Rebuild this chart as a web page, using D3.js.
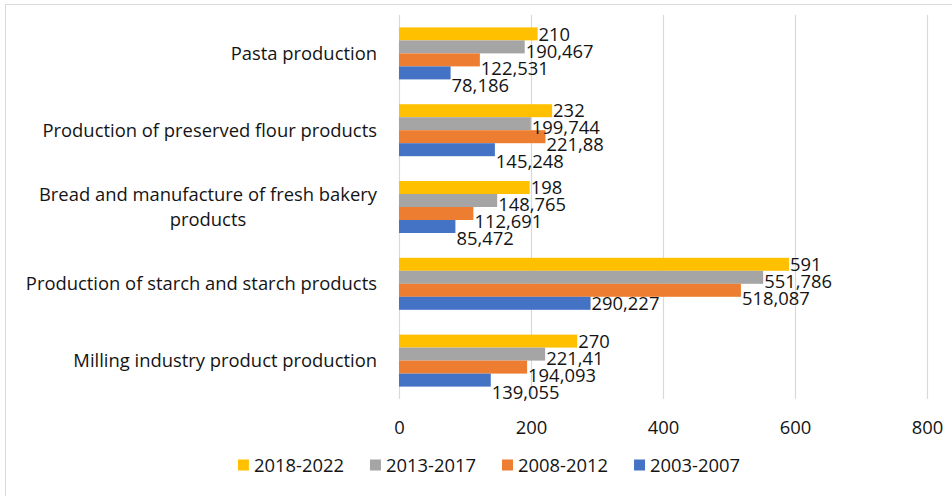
<!DOCTYPE html>
<html>
<head>
<meta charset="utf-8">
<script src="https://cdn.jsdelivr.net/npm/d3@7"></script>
<style>
  html, body { margin: 0; padding: 0; background: #fff; }
  svg { display: block; font-family: "Open Sans", sans-serif; }
</style>
</head>
<body>
<svg id="chart" width="952" height="496"></svg>
<script>
// Categories, top to bottom
const categories = [
  "Pasta production",
  "Production of preserved flour products",
  "Bread and manufacture of fresh bakery products",
  "Production of starch and starch products",
  "Milling industry product production"
];

// Periods, in the order the bars sit inside each group (top to bottom)
const periods = ["2018-2022", "2013-2017", "2008-2012", "2003-2007"];

// One array per period, aligned with categories
const values2018_2022 = [210, 232, 198, 591, 270];
const values2013_2017 = [190.467, 199.744, 148.765, 551.786, 221.41];
const values2008_2012 = [122.531, 221.88, 112.691, 518.087, 194.093];
const values2003_2007 = [78.186, 145.248, 85.472, 290.227, 139.055];

const xTicks = [0, 200, 400, 600, 800];
const periodColors = ["#FFC000", "#A5A5A5", "#ED7D31", "#4472C4"];

const seriesValues = [values2018_2022, values2013_2017, values2008_2012, values2003_2007];

const svg = d3.select("#chart");
const W = 952, H = 496;
const plot = { left: 399, right: 927, top: 15, bottom: 399 };
const FONT = 18.4;
const TEXT = "#141414";

// chart frame
svg.append("rect")
  .attr("x", 5.5).attr("y", 4.5)
  .attr("width", W + 10).attr("height", H + 10)
  .attr("fill", "#fff").attr("stroke", "#d9d9d9").attr("stroke-width", 1);

const x = d3.scaleLinear().domain([0, 800]).range([plot.left, plot.right]);
const y = d3.scaleBand().domain(categories).range([plot.top, plot.bottom])
  .paddingInner(0.323).paddingOuter(0.1615);
const ySub = d3.scaleBand().domain(periods).range([0, y.bandwidth()]);
const color = d3.scaleOrdinal().domain(periods).range(periodColors);

// vertical gridlines
svg.append("g").selectAll("line").data(xTicks).join("line")
  .attr("x1", d => Math.round(x(d)) + 0.5).attr("x2", d => Math.round(x(d)) + 0.5)
  .attr("y1", plot.top).attr("y2", plot.bottom)
  .attr("stroke", "#d9d9d9").attr("stroke-width", 1.2);

// x axis tick labels
const xAxis = d3.axisBottom(x).tickValues(xTicks).tickSize(0).tickPadding(0)
  .tickFormat(d3.format("d"));
const gx = svg.append("g").attr("transform", `translate(0,${plot.bottom + 28})`).call(xAxis);
gx.select(".domain").remove();
gx.selectAll("text").attr("font-size", FONT).attr("font-family", "Open Sans")
  .attr("fill", TEXT).attr("dy", "0.36em").attr("y", 0);

// category labels, wrapped when wider than the label column
const labelRight = 377;
const maxLabelWidth = 355;
const gCat = svg.append("g");
categories.forEach(cat => {
  const cy = y(cat) + y.bandwidth() / 2;
  const t = gCat.append("text").attr("font-size", FONT).attr("fill", TEXT);
  const words = cat.split(" ");
  const lines = [];
  let line = [];
  const probe = svg.append("text").attr("font-size", FONT);
  words.forEach(w => {
    const test = line.concat(w).join(" ");
    probe.text(test);
    if (probe.node().getComputedTextLength() > maxLabelWidth && line.length) {
      lines.push(line.join(" "));
      line = [w];
    } else line.push(w);
  });
  lines.push(line.join(" "));
  // widest line, to centre the wrapped block and right-align it
  const widths = lines.map(l => { probe.text(l); return probe.node().getComputedTextLength(); });
  probe.remove();
  const blockW = d3.max(widths);
  const lh = 25;
  const cx = labelRight - blockW / 2;
  lines.forEach((l, i) => {
    t.append("tspan")
      .attr("x", cx)
      .attr("y", cy + (i - (lines.length - 1) / 2) * lh)
      .attr("dy", "0.36em")
      .attr("text-anchor", "middle")
      .text(l);
  });
});

// bars
const rows = [];
categories.forEach((cat, ci) => {
  periods.forEach((p, si) => {
    rows.push({ cat, period: p, value: seriesValues[si][ci] });
  });
});

svg.append("g").selectAll("rect").data(rows).join("rect")
  .attr("x", x(0))
  .attr("y", d => y(d.cat) + ySub(d.period))
  .attr("width", d => x(d.value) - x(0))
  .attr("height", ySub.bandwidth())
  .attr("fill", d => color(d.period));

// value labels: placed at the bar end, pushed down past any bar or
// earlier label they would overlap
const fmt = v => String(v).replace(".", ",");
const gLab = svg.append("g");
const barClear = 2;      // how far a label centre must stay from a foreign bar
const labelSep = 17;     // minimum centre distance between stacked labels
categories.forEach(cat => {
  const catRows = rows.filter(r => r.cat === cat);
  const barBoxes = catRows.map(r => ({
    row: r,
    x0: x(0), x1: x(r.value),
    y0: y(cat) + ySub(r.period), y1: y(cat) + ySub(r.period) + ySub.bandwidth()
  }));
  const placed = [];
  catRows.forEach(r => {
    const t = gLab.append("text").attr("font-size", FONT).attr("fill", TEXT).text(fmt(r.value));
    const w = t.node().getComputedTextLength();
    const lx0 = x(r.value) + 1, lx1 = lx0 + w;
    let cy = y(cat) + ySub(r.period) + ySub.bandwidth() / 2;
    const others = barBoxes.filter(b => b.row !== r);
    let moved = true, guard = 0;
    while (moved && guard++ < 50) {
      moved = false;
      for (const o of others) {
        const xo = lx0 < o.x1 && lx1 > o.x0;
        const yo = (cy - barClear) < o.y1 - 0.01 && (cy + barClear) > o.y0 + 0.01;
        if (xo && yo) { cy = o.y1 + barClear; moved = true; }
      }
      for (const p of placed) {
        const xo = lx0 < p.x1 && lx1 > p.x0;
        if (xo && cy - p.cy < labelSep - 0.01) { cy = p.cy + labelSep; moved = true; }
      }
    }
    placed.push({ x0: lx0, x1: lx1, cy });
    t.attr("x", lx0).attr("y", cy).attr("dy", "0.36em");
  });
});

// legend
const legend = svg.append("g");
const legY = 465;
const items = [];
periods.forEach(p => {
  const g = legend.append("g");
  g.append("rect").attr("x", 0).attr("y", -5.5).attr("width", 11).attr("height", 11).attr("fill", color(p));
  const t = g.append("text").attr("x", 16).attr("y", 0).attr("dy", "0.36em")
    .attr("font-size", FONT).attr("fill", TEXT).text(p);
  const w = 16 + t.node().getComputedTextLength();
  items.push({ g, w });
});
const gap = 26;
const total = d3.sum(items, d => d.w) + gap * (items.length - 1);
let lx = 489 - total / 2;
items.forEach(it => {
  it.g.attr("transform", `translate(${lx},${legY})`);
  lx += it.w + gap;
});
</script>
</body>
</html>
